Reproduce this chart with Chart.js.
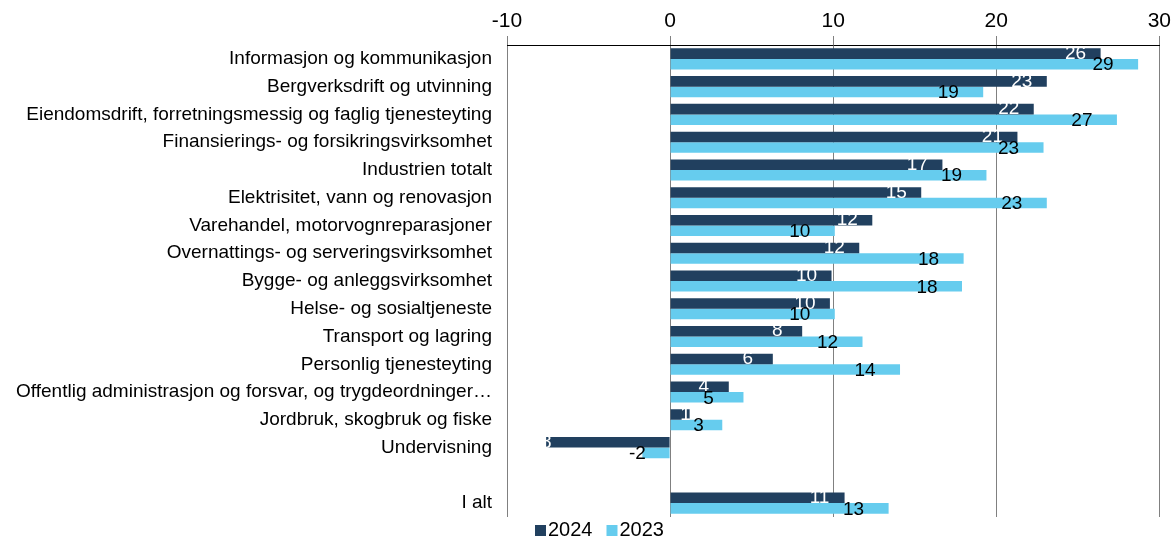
<!DOCTYPE html>
<html><head><meta charset="utf-8">
<script src="https://cdn.jsdelivr.net/npm/chart.js@4.4.1/dist/chart.umd.min.js"></script>
<style>html,body{margin:0;padding:0;background:#fff;}#wrap{width:1173px;height:538px;}</style>
</head><body><div id="wrap"><canvas id="c" width="1173" height="538"></canvas></div>
<script>
const categories = [
  "Informasjon og kommunikasjon",
  "Bergverksdrift og utvinning",
  "Eiendomsdrift, forretningsmessig og faglig tjenesteyting",
  "Finansierings- og forsikringsvirksomhet",
  "Industrien totalt",
  "Elektrisitet, vann og renovasjon",
  "Varehandel, motorvognreparasjoner",
  "Overnattings- og serveringsvirksomhet",
  "Bygge- og anleggsvirksomhet",
  "Helse- og sosialtjeneste",
  "Transport og lagring",
  "Personlig tjenesteyting",
  "Offentlig administrasjon og forsvar, og trygdeordninger\u2026",
  "Jordbruk, skogbruk og fiske",
  "Undervisning",
  "",
  "I alt"
];
const values2024 = [26.4, 23.1, 22.3, 21.3, 16.7, 15.4, 12.4, 11.6, 9.9, 9.8, 8.1, 6.3, 3.6, 1.2, -7.6, null, 10.7];
const values2023 = [28.7, 19.2, 27.4, 22.9, 19.4, 23.1, 10.1, 18.0, 17.9, 10.1, 11.8, 14.1, 4.5, 3.2, -1.7, null, 13.4];
const seriesNames = ["2024", "2023"];
const xTicks = [-10, 0, 10, 20, 30];

const DARK = "#21405F";
const LIGHT = "#66CCEE";
const FONT = "'Liberation Sans', Arial, sans-serif";

const labelPlugin = {
  id: "barLabels",
  afterDatasetsDraw(chart) {
    const ctx = chart.ctx;
    ctx.save();
    ctx.font = "19px " + FONT;
    ctx.textAlign = "center";
    ctx.textBaseline = "middle";
    chart.data.datasets.forEach((ds, di) => {
      const meta = chart.getDatasetMeta(di);
      meta.data.forEach((bar, i) => {
        const v = ds.data[i];
        if (v === null || v === undefined) return;
        const txt = String(Math.round(v));
        const len = Math.abs(bar.x - bar.base);
        let cx;
        if (v >= 0) {
          const off = di === 0 ? Math.min(25, Math.max(4, len - 20)) : Math.min(35, Math.max(8, len - 28));
          cx = bar.x - off;
        } else {
          cx = di === 0 ? bar.x - 3 : bar.x - 5;
        }
        ctx.fillStyle = di === 0 ? "#ffffff" : "#000000";
        ctx.fillText(txt, cx, bar.y + (di === 0 ? 0 : 1));
      });
    });
    ctx.restore();
  }
};

const legendPlugin = {
  id: "simpleLegend",
  afterDraw(chart) {
    const ctx = chart.ctx;
    ctx.save();
    ctx.font = "20px " + FONT;
    ctx.textBaseline = "middle";
    ctx.textAlign = "left";
    let x = 535;
    const y = 530;
    chart.data.datasets.forEach((ds) => {
      ctx.fillStyle = ds.backgroundColor;
      ctx.fillRect(x, y - 5, 11, 11);
      ctx.fillStyle = "#000";
      ctx.fillText(ds.label, x + 13, y);
      x += 13 + ctx.measureText(ds.label).width + 14;
    });
    ctx.restore();
  }
};

new Chart(document.getElementById("c"), {
  type: "bar",
  data: {
    labels: categories,
    datasets: [
      { label: seriesNames[0], data: values2024, backgroundColor: DARK, borderWidth: 0 },
      { label: seriesNames[1], data: values2023, backgroundColor: LIGHT, borderWidth: 0 }
    ]
  },
  options: {
    indexAxis: "y",
    responsive: false,
    animation: false,
    layout: { padding: { left: 0, right: 13, top: 2, bottom: 21 } },
    datasets: { bar: { categoryPercentage: 0.76, barPercentage: 1.0 } },
    scales: {
      x: {
        position: "top",
        min: -10, max: 30,
        afterBuildTicks(scale) { scale.ticks = xTicks.map(v => ({ value: v })); },
        afterFit(scale) { scale.height = 43; },
        ticks: { color: "#000", font: { family: FONT, size: 21 }, padding: 2, maxRotation: 0 },
        grid: { color: "#808080", lineWidth: 1, tickLength: 9, drawTicks: true },
        border: { display: true, color: "#000", width: 1 }
      },
      y: {
        afterFit(scale) { scale.width = 507; },
        ticks: { color: "#000", font: { family: FONT, size: 19 }, padding: 7, autoSkip: false },
        grid: { display: false },
        border: { display: false }
      }
    },
    plugins: {
      legend: { display: false },
      tooltip: { enabled: false }
    }
  },
  plugins: [labelPlugin, legendPlugin]
});
</script>
</body></html>
